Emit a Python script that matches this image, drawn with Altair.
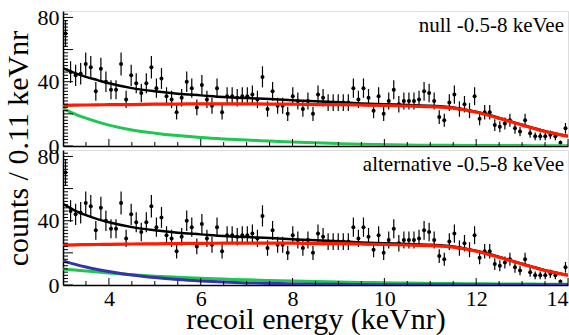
import altair as alt
import pandas as pd

# ---------------- data ----------------
counts = [70, 46, 44, 45, 51, 49, 34, 48, 40, 35,
          35, 51, 29, 44, 39, 33, 39, 49, 36, 42,
          31, 29, 21, 30, 40, 36, 24, 38, 29, 25,
          36, 21, 31, 31, 30, 31, 31, 32, 29, 43,
          23, 34, 25, 25, 20, 31, 28, 23, 28, 20,
          32, 30, 27, 27, 27, 27, 27, 36, 29, 36,
          30, 22, 31, 20, 28, 35, 26, 28, 28, 28,
          29, 34, 33, 28, 18, 16, 27, 32, 23, 26,
          22, 31, 17, 21, 21, 13, 12, 14, 16, 11,
          9, 16, 8, 6, 6, 6, 7, 6, 2, 11]
bin_width = 0.11
x_start = 3.0
bin_centers = [round(x_start + bin_width * (i + 0.5), 3) for i in range(len(counts))]

curve_x = [3.0, 3.25, 3.5, 3.75, 4.0, 4.5, 5.0, 5.5, 6.0, 6.5, 7.0, 7.5, 8.0,
           8.5, 9.0, 9.5, 10.0, 10.5, 11.0, 11.5, 12.0, 12.5, 13.0, 13.5, 14.0]

null_total = [48.5, 45.5, 43.0, 41.0, 39.0, 36.0, 34.0, 32.5, 31.5, 30.5, 29.8, 29.2, 28.5,
              27.8, 27.2, 26.5, 26.0, 25.5, 25.0, 24.0, 21.3, 17.5, 13.2, 9.2, 6.2]
null_red = [25.3, 25.4, 25.5, 25.6, 25.7, 25.8, 26.0, 26.1, 26.2, 26.2, 26.2, 26.1, 26.0,
            25.8, 25.7, 25.5, 25.2, 24.9, 24.5, 23.6, 21.0, 17.2, 13.0, 9.0, 6.0]
null_green = [23.5, 20.0, 17.3, 15.0, 13.0, 10.0, 8.0, 6.5, 5.3, 4.4, 3.7, 3.1, 2.5,
              2.0, 1.5, 1.1, 0.8, 0.6, 0.5, 0.4, 0.35, 0.3, 0.25, 0.2, 0.2]

alt_total = [50.5, 46.5, 43.5, 41.0, 39.0, 36.0, 34.0, 32.5, 31.5, 30.5, 29.8, 29.2, 28.5,
             27.8, 27.2, 26.5, 26.0, 25.5, 25.0, 24.0, 21.3, 17.5, 13.2, 9.2, 6.2]
alt_red = [24.8, 25.0, 25.1, 25.2, 25.3, 25.5, 25.6, 25.8, 25.9, 26.0, 26.0, 26.0, 26.0,
           25.8, 25.7, 25.5, 25.2, 24.9, 24.5, 23.6, 21.0, 17.2, 13.0, 9.0, 6.0]
alt_green = [10.0, 9.4, 8.7, 8.1, 7.5, 6.4, 5.5, 4.8, 4.2, 3.7, 3.2, 2.8, 2.5,
             2.2, 1.9, 1.6, 1.4, 1.2, 1.0, 0.9, 0.8, 0.7, 0.6, 0.5, 0.5]
alt_blue = [15.0, 13.0, 11.2, 9.7, 8.4, 6.2, 4.6, 3.4, 2.5, 1.8, 1.3, 1.0, 0.7,
            0.5, 0.4, 0.3, 0.2, 0.2, 0.15, 0.1, 0.1, 0.1, 0.1, 0.1, 0.1]

panel_labels = ["null -0.5-8 keVee", "alternative -0.5-8 keVee"]
y_major = [0, 20, 40, 60, 80]
y_minor = [2, 4, 6, 8, 10, 12, 14, 16, 18, 22, 24, 26, 28, 30, 32, 34, 36, 38,
           42, 44, 46, 48, 50, 52, 54, 56, 58, 62, 64, 66, 68, 70, 72, 74, 76, 78, 82]
x_major = [4, 6, 8, 10, 12, 14]
x_minor = [3.5, 4.5, 5, 5.5, 6.5, 7, 7.5, 8.5, 9, 9.5, 10.5, 11, 11.5, 12.5, 13, 13.5]

# ---------------- styling ----------------
W, H = 505, 135
FONT = "Liberation Serif"
XDOM = [3, 14]
YDOM = [0, 84]
COL = {"black": "#000000", "red": "#ff1a00", "green": "#1ec850", "blue": "#3535a8"}

pts_df = pd.DataFrame({"x": bin_centers, "y": counts})
ymajor_df = pd.DataFrame({"v": y_major})
yminor_df = pd.DataFrame({"v": y_minor})
xmajor_df = pd.DataFrame({"v": x_major})
xminor_df = pd.DataFrame({"v": x_minor})


def panel(curves, label, bottom):
    xs = alt.Scale(domain=XDOM, nice=False, zero=False)
    ys = alt.Scale(domain=YDOM, nice=False)
    if bottom:
        xaxis = alt.Axis(values=x_major, ticks=False, grid=False, domainColor="black",
                         domainWidth=1.5, labelFont=FONT, labelFontSize=22,
                         labelColor="black", labelPadding=3, labelFlush=True,
                         labelBaseline="top", title="recoil energy (keVnr)",
                         titleFont=FONT, titleFontSize=30, titleFontWeight="normal",
                         titleColor="black", titleBaseline="alphabetic", titleY=43)
        yaxis = alt.Axis(values=y_major, ticks=False, grid=False, domainColor="black",
                         domainWidth=1.5, labelFont=FONT, labelFontSize=22,
                         labelColor="black", labelPadding=4, labelFlush=False,
                         title="counts / 0.11 keVnr", titleFont=FONT, titleFontSize=30,
                         titleFontWeight="normal", titleColor="black",
                         titleX=-30, titleY=-2, titleAlign="center", titleBaseline="bottom")
    else:
        xaxis = alt.Axis(values=x_major, ticks=False, grid=False, labels=False,
                         domainColor="black", domainWidth=1.5, title=None)
        yaxis = alt.Axis(values=y_major, ticks=False, grid=False, domainColor="black",
                         domainWidth=1.5, labelFont=FONT, labelFontSize=22,
                         labelColor="black", labelPadding=4, labelFlush=False, title=None)

    base = alt.Chart(pts_df)
    err = base.transform_calculate(
        lo="datum.y - sqrt(datum.y)", hi="datum.y + sqrt(datum.y)"
    ).mark_rule(color="black", strokeWidth=1.2).encode(
        x=alt.X("x:Q", scale=xs, axis=xaxis),
        y=alt.Y("lo:Q", scale=ys, axis=yaxis),
        y2="hi:Q",
    )
    dots = base.mark_circle(color="black", size=16, opacity=1).encode(
        x=alt.X("x:Q", scale=xs), y=alt.Y("y:Q", scale=ys)
    )
    layers = [err, dots]
    for vals, col, sw in curves:
        cdf = pd.DataFrame({"x": curve_x, "y": vals})
        layers.append(
            alt.Chart(cdf).mark_line(color=COL[col], strokeWidth=sw, interpolate="monotone",
                                     clip=True).encode(
                x=alt.X("x:Q", scale=xs), y=alt.Y("y:Q", scale=ys)
            )
        )
    ticks = [
        alt.Chart(ymajor_df).mark_rule(color="black", strokeWidth=1).encode(
            y=alt.Y("v:Q", scale=ys), x=alt.value(0), x2=alt.value(10)),
        alt.Chart(yminor_df).mark_rule(color="black", strokeWidth=1, clip=True).encode(
            y=alt.Y("v:Q", scale=ys), x=alt.value(0), x2=alt.value(5)),
        alt.Chart(xmajor_df).mark_rule(color="black", strokeWidth=1).encode(
            x=alt.X("v:Q", scale=xs), y=alt.value(H), y2=alt.value(H - 7)),
        alt.Chart(xminor_df).mark_rule(color="black", strokeWidth=1).encode(
            x=alt.X("v:Q", scale=xs), y=alt.value(H), y2=alt.value(H - 4)),
    ]
    txt = alt.Chart(pd.DataFrame({"t": [label]})).mark_text(
        align="right", baseline="middle", font=FONT, fontSize=21, color="black"
    ).encode(x=alt.value(W - 4), y=alt.value(15), text="t:N")
    return alt.layer(*layers, *ticks, txt).properties(width=W, height=H)


top = panel([(null_total, "black", 2.5), (null_green, "green", 3), (null_red, "red", 3.2)],
            panel_labels[0], False)
bot = panel([(alt_total, "black", 2.5), (alt_green, "green", 3), (alt_blue, "blue", 3),
             (alt_red, "red", 3.2)], panel_labels[1], True)

chart = alt.vconcat(top, bot, spacing=4, bounds="flush").properties(
    padding={"left": 2, "top": 5, "right": 0, "bottom": 0}
).configure_view(stroke="#999999", strokeWidth=1).configure(background="white")

chart.save("out.html", embed_options={"renderer": "svg", "actions": False})
